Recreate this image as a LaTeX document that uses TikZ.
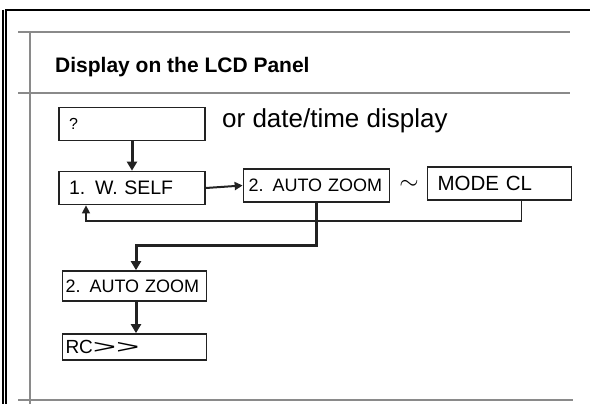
\documentclass[tikz,border=0pt]{standalone}
\usepackage{fontspec}
\setmainfont{Liberation Sans}
\usetikzlibrary{arrows.meta,positioning,calc}
\definecolor{ink}{HTML}{222222}
\definecolor{rulegray}{HTML}{8A8A8A}
\tikzset{
  lcd/.style={draw=ink,line width=1.7pt,fill=white,align=left,inner xsep=5pt,inner ysep=0pt,
    text width=136pt,minimum height=33pt,font=\fontsize{18}{20}\selectfont},
  arr/.style={-{Triangle[length=9pt,width=10pt]},line width=3pt,draw=ink},
  link/.style={-{Triangle[length=8pt,width=8pt]},line width=2pt,draw=ink},
  ret/.style={-{Triangle[length=8pt,width=8pt]},line width=1.4pt,draw=ink},
  frame/.style={line width=2pt,draw=black},
  sheet/.style={line width=2pt,draw=rulegray}
}
\newcommand{\gt}{\scalebox{2.1}[1]{>}}

\begin{document}
\begin{tikzpicture}[x=1pt,y=-1pt]
\useasboundingbox (0,0) rectangle (590,404);
% page frame and rules
\draw[frame] (2.5,10) -- (2.5,404);
\draw[frame] (6,404) -- (6,10) -- (590,10);
\draw[sheet] (18,32) -- (570,32);
\draw[sheet] (18,93) -- (570,93);
\draw[sheet] (18,400) -- (573,400);
\draw[sheet] (30,32) -- (30,404);
\node[anchor=base west,inner sep=0pt,font=\bfseries\fontsize{21}{24}\selectfont] (title) at (55,73)
  {Display on the LCD Panel};
% boxes
\node[lcd,inner xsep=10pt,text width=126pt,font=\fontsize{16}{18}\selectfont] (qbox) at (132,124) {?};
\node[anchor=base west,inner sep=0pt,font=\fontsize{26}{28}\selectfont] (alt) at (222,128)
  {or date/time display};
\node[lcd,inner xsep=10pt,text width=126pt,font=\fontsize{19.5}{22}\selectfont] (wself) at (132,188) {1. W. SELF};
\node[lcd] (zoomA) at (316.5,185.5) {2. AUTO ZOOM};
\node[lcd,inner xsep=10pt,text width=124pt,font=\fontsize{20.5}{22}\selectfont] (modecl) at (499.5,183.5) {MODE CL};
\node[font=\fontsize{30}{30}\selectfont,inner sep=0pt] (tilde) at (409,185) {$\sim$};
\node[lcd,minimum height=30pt,inner xsep=3pt,text width=138pt] (zoomB) at (134.5,286) {2. AUTO ZOOM};
\node[lcd,minimum height=26pt,inner xsep=3pt,text width=138pt,font=\fontsize{19}{20}\selectfont] (rcbox) at (134.5,347) {RC\gt\gt};
% connectors
\coordinate (bend) at (136,245);
\coordinate (back) at (86,221);
\draw[arr] (qbox.south) -- (wself.north);
\draw[link] (wself.east) -- (zoomA.west);
\draw[arr] (zoomA.south) |- (bend) -- (bend |- zoomB.north);
\draw[arr] (bend |- zoomB.south) -- (bend |- rcbox.north);
\draw[ret] ([xshift=22pt]modecl.south) |- (back) -- (back |- wself.south);
\end{tikzpicture}
\end{document}
